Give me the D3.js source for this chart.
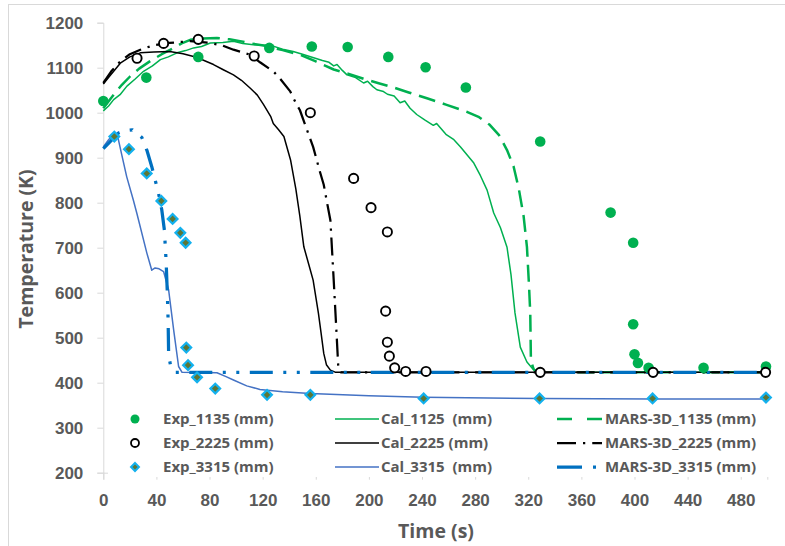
<!DOCTYPE html>
<html>
<head>
<meta charset="utf-8">
<script src="https://cdn.jsdelivr.net/npm/d3@7"></script>
<style>
  html, body { margin: 0; padding: 0; background: #fff; }
  svg { display: block; font-family: "Open Sans", "Liberation Sans", sans-serif; }
  .axis text { fill: #595959; font-weight: 700; }
  .legend text { white-space: pre; }
</style>
</head>
<body>
<svg id="chart" width="785" height="546"></svg>
<script>
// Tick values for both axes
const timeTicks = [0, 40, 80, 120, 160, 200, 240, 280, 320, 360, 400, 440, 480];
const tempTicks = [200, 300, 400, 500, 600, 700, 800, 900, 1000, 1100, 1200];

// Measured temperatures [time (s), temperature (K)]
const exp1135 = [[0,1026],[32.4,1078],[71.5,1124],[125,1144],[157,1147],[184,1146],[214.6,1124],[242.7,1101],[273,1056],[329,936],[382,778],[399,711],[399,530],[400,463],[402.6,444],[410.6,433],[452,433],[499,436]];
const exp2225 = [[25.4,1121],[45.4,1154],[71.5,1163],[113.6,1126],[155.9,1000],[188.5,854],[201.6,789],[213.9,735],[212.6,559],[213.9,490],[215.4,459],[219.4,433],[227.7,425],[243,425],[329,423],[414,423],[498.7,423]];
const exp3315 = [[8.3,947],[19.3,919],[32.7,865],[43.7,804],[52.2,764],[58,733],[62,711],[62.5,478],[63.8,439],[70.6,412],[84.3,387],[123.3,373],[155.9,373],[241.2,365],[328.5,365],[413.6,365],[499,367]];

// Calculated temperatures
const cal1125 = [[0,1004],[4,1015],[7.8,1029],[12.6,1040],[17.8,1059],[24,1075],[30.3,1092],[37,1104],[43,1118],[49,1124],[55.5,1133],[62,1138],[68,1144],[74,1147],[80.6,1155],[90,1156],[98,1159],[105,1154],[113,1151],[120,1150],[128,1148],[135,1141],[143,1136],[150,1130],[158.4,1122],[165,1116],[170,1112],[173.5,1104],[176,1107],[180,1094],[183.5,1084],[190,1078],[196,1066],[199,1070],[203,1058],[206,1051],[211,1047],[214,1041],[219,1037],[223.5,1022],[227,1026],[231,1010],[236,996],[242,984],[248.5,972],[251,976],[258,952],[264,940],[269,924],[274,906],[279,888],[284,860],[289,828],[294,777],[299,745],[304,701],[307,640],[310,555],[314,479],[319,446],[323,432],[327,424],[340,423],[500,423]];
const cal2225 = [[0,1064],[5,1082],[12.8,1110],[20,1124],[27.9,1133],[38,1135],[50,1136],[60,1131],[68,1125],[75,1117],[83,1107],[90,1096],[98,1084],[104,1072],[110.5,1055],[116,1039],[120.7,1018],[126,992],[128,976],[132,962],[136,947],[141,895],[145,830],[148,770],[151,702],[155,660],[158,628],[162,554],[164,510],[166,465],[168,440],[171,428],[175,423],[500,423]];
const cal3315 = [[0,924],[4,940],[8,953],[10.5,952],[14,905],[17.6,858],[22.6,806],[25.3,776],[32.8,688],[36.5,650],[39,655],[42,653],[45.4,647],[49.2,606],[53,517],[56.7,436],[59.3,423],[85.6,422],[92,414],[98,406],[108,393],[118,385],[135,380],[156,376],[200,371],[241,367.5],[329,365],[414,364],[500,364]];

// MARS-3D results
const mars1135 = [[0,1010],[7.8,1040],[14,1062],[20.3,1081],[27,1098],[35,1114],[44,1130],[53,1144],[59,1154],[65.5,1162],[75,1165],[85.5,1166],[95,1163],[103,1159],[113,1153],[123,1148],[135,1139],[148,1129],[160,1114],[173.5,1096],[186,1085],[198.5,1073],[208,1065],[218.6,1056],[230,1045],[243.7,1032],[258,1018],[273.8,1002],[283,990],[291,973],[298,950],[304,917],[309,880],[313,829],[316.5,770],[319,702],[320.5,620],[321.5,555],[322,450],[324,430],[326,424],[340,423],[500,423]];
const mars2225 = [[0,1066],[6,1092],[12.8,1114],[20,1130],[27.9,1140],[38,1150],[50,1155],[65.5,1159],[80.6,1155],[90,1149],[98,1140],[110.5,1129],[118,1112],[128,1092],[133,1076],[140.6,1048],[145.6,1018],[148,1006],[153,965],[158,924],[163,870],[166,840],[168.5,800],[171,761],[173.5,628],[175.5,517],[177,432],[179,423],[500,423]];
const mars3315 = [[0,920],[5,935],[11.5,955],[16,960],[22,962],[29,945],[33,915],[36.5,880],[41.5,822],[44,785],[46,739],[47.3,670],[48.2,600],[48.8,540],[49.2,462],[51,432],[54,423],[500,423]];

const GREEN = "#00B050", BLACK = "#000000", CAL_BLUE = "#4472C4", MARS_BLUE = "#0070C0";
const DIAMOND_FILL = "#5E7634", DIAMOND_EDGE = "#13B1EE";

const svg = d3.select("#chart");

// outer chart frame
svg.append("rect").attr("x", 8.5).attr("y", 4.5).attr("width", 820).attr("height", 600)
  .attr("fill", "#fff").attr("stroke", "#d9d9d9").attr("stroke-width", 1);

const x = d3.scaleLinear().domain([0, 500]).range([103.3, 767.3]);
const y = d3.scaleLinear().domain([200, 1200]).range([472.7, 22.7]);

// axes
const yAxis = svg.append("g").attr("class", "axis").attr("transform", `translate(${x(0)},0)`)
  .call(d3.axisLeft(y).tickValues(tempTicks).tickSize(6).tickPadding(14).tickFormat(d3.format("d")));
const xAxis = svg.append("g").attr("class", "axis").attr("transform", `translate(0,${y(200)})`)
  .call(d3.axisBottom(x).tickValues(timeTicks).tickSize(7).tickPadding(14).tickFormat(d3.format("d")));
[yAxis, xAxis].forEach(g => {
  g.select(".domain").attr("stroke", "#d9d9d9");
  g.selectAll(".tick line").attr("stroke", "#d9d9d9");
  g.selectAll(".tick text").style("font-size", "17px");
});

// axis titles
svg.append("text").attr("transform", `translate(33,249) rotate(-90)`)
  .attr("text-anchor", "middle").attr("fill", "#595959")
  .style("font-size", "19.5px").style("font-weight", 700).text("Temperature (K)");
svg.append("text").attr("x", 436).attr("y", 538)
  .attr("text-anchor", "middle").attr("fill", "#595959")
  .style("font-size", "19.5px").style("font-weight", 700).text("Time (s)");

// line series
const line = d3.line().x(d => x(d[0])).y(d => y(d[1]));
const lineSeries = [
  { name: "Cal_1125  (mm)", data: cal1125, color: GREEN, width: 1.5, dash: null },
  { name: "MARS-3D_1135 (mm)", data: mars1135, color: GREEN, width: 2.5, dash: "17,8" },
  { name: "Cal_2225 (mm)", data: cal2225, color: BLACK, width: 1.5, dash: null },
  { name: "MARS-3D_2225 (mm)", data: mars2225, color: BLACK, width: 2.25, dash: "18,6.75,2.25,6.75" },
  { name: "Cal_3315  (mm)", data: cal3315, color: CAL_BLUE, width: 1.5, dash: null },
  { name: "MARS-3D_3315 (mm)", data: mars3315, color: MARS_BLUE, width: 3.25, dash: "23,10.5,3,10.5,3,10.5" }
];
const plot = svg.append("g");
lineSeries.forEach(s => {
  plot.append("path").datum(s.data).attr("d", line)
    .attr("fill", "none").attr("stroke", s.color).attr("stroke-width", s.width)
    .attr("stroke-dasharray", s.dash).attr("stroke-linejoin", "round");
});

// marker series
const diamond = d3.symbol().type(d3.symbolDiamond2).size(60);
function drawGreenDot(sel) { sel.append("circle").attr("r", 5.3).attr("fill", GREEN); }
function drawOpenCircle(sel) { sel.append("circle").attr("r", 4.6).attr("fill", "#fff").attr("stroke", BLACK).attr("stroke-width", 1.9); }
function drawDiamond(sel) { sel.append("path").attr("d", diamond).attr("fill", DIAMOND_FILL).attr("stroke", DIAMOND_EDGE).attr("stroke-width", 2.2); }

function markers(data, drawFn) {
  plot.append("g").selectAll("g").data(data).join("g")
    .attr("transform", d => `translate(${x(d[0])},${y(d[1])})`)
    .each(function () { drawFn(d3.select(this)); });
}
markers(exp1135, drawGreenDot);
markers(exp2225, drawOpenCircle);
markers(exp3315, drawDiamond);

// legend
const legend = svg.append("g").attr("class", "legend");
legend.append("rect").attr("x", 108).attr("y", 405).attr("width", 666).attr("height", 72).attr("fill", "#fff");
const rows = [419, 443, 467];
const expItems = [
  { name: "Exp_1135 (mm)", draw: drawGreenDot },
  { name: "Exp_2225 (mm)", draw: drawOpenCircle },
  { name: "Exp_3315 (mm)", draw: drawDiamond }
];
function legendText(tx, ty, label) {
  legend.append("text").attr("x", tx).attr("y", ty).attr("dy", "0.36em")
    .attr("fill", "#595959").style("font-size", "15px").style("font-weight", 700).text(label);
}
expItems.forEach((it, i) => {
  const g = legend.append("g").attr("transform", `translate(135,${rows[i]})`);
  if (i === 0) g.append("circle").attr("r", 4.5).attr("fill", GREEN);
  else if (i === 1) g.append("circle").attr("r", 4).attr("fill", "#fff").attr("stroke", BLACK).attr("stroke-width", 1.8);
  else g.append("path").attr("d", d3.symbol().type(d3.symbolDiamond2).size(40)).attr("fill", DIAMOND_FILL).attr("stroke", DIAMOND_EDGE).attr("stroke-width", 2);
  legendText(163, rows[i], it.name);
});
[0, 2, 4].forEach((k, i) => {
  const s = lineSeries[k];
  legend.append("line").attr("x1", 335).attr("x2", 379).attr("y1", rows[i]).attr("y2", rows[i])
    .attr("stroke", s.color).attr("stroke-width", s.width);
  legendText(381, rows[i], s.name);
});
const marsLegendDash = ["15,15", "19,7,2.25,7", "25,11,3,11"];
[1, 3, 5].forEach((k, i) => {
  const s = lineSeries[k];
  legend.append("line").attr("x1", 557).attr("x2", 602).attr("y1", rows[i]).attr("y2", rows[i])
    .attr("stroke", s.color).attr("stroke-width", s.width).attr("stroke-dasharray", marsLegendDash[i]);
  legendText(605, rows[i], s.name);
});
</script>
</body>
</html>
